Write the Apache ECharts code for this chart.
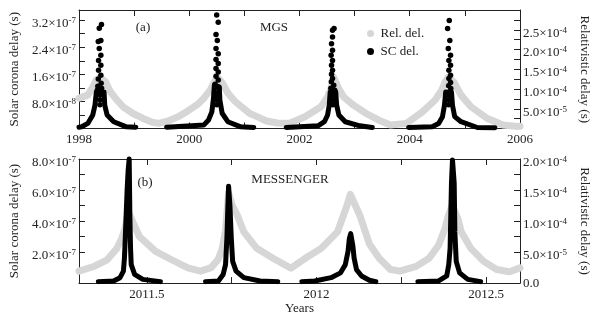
<!DOCTYPE html>
<html>
<head>
<meta charset="utf-8">
<script src="https://cdn.jsdelivr.net/npm/echarts@6/dist/echarts.min.js"></script>
<style>
  html, body { margin: 0; padding: 0; background: #fff; }
  #chart { width: 599px; height: 316px; }
</style>
</head>
<body>
<div id="chart"></div>
<script>
// ---- data: [year, seconds] ----

// (a) MGS, relativistic delay (right axis)
const relMGS = [
  [1998.00, 7.7e-5], [1998.16, 8.45e-5], [1998.25, 10.5e-5], [1998.31, 12.2e-5],
  [1998.38, 13.0e-5], [1998.485, 11.8e-5], [1998.57, 9.3e-5], [1998.69, 7.2e-5],
  [1998.80, 5.5e-5], [1998.98, 3.8e-5], [1999.155, 2.6e-5], [1999.33, 1.6e-5],
  [1999.45, 1.3e-5], [1999.62, 1.9e-5], [1999.80, 3.0e-5], [1999.97, 4.4e-5],
  [2000.15, 6.1e-5], [2000.26, 7.6e-5], [2000.38, 9.7e-5], [2000.44, 11.4e-5],
  [2000.51, 13.0e-5], [2000.60, 11.5e-5], [2000.70, 9.0e-5], [2000.82, 7.0e-5],
  [2000.94, 5.6e-5], [2001.10, 3.8e-5], [2001.23, 3.0e-5], [2001.40, 1.9e-5],
  [2001.60, 1.4e-5], [2001.81, 1.3e-5], [2002.10, 3.0e-5], [2002.39, 5.5e-5],
  [2002.51, 8.0e-5], [2002.57, 10.1e-5], [2002.62, 13.0e-5], [2002.71, 10.1e-5],
  [2002.80, 8.0e-5], [2002.98, 5.9e-5], [2003.21, 3.8e-5], [2003.44, 2.1e-5],
  [2003.65, 0.9e-5], [2003.94, 1.3e-5], [2004.23, 4.2e-5], [2004.46, 7.2e-5],
  [2004.58, 9.7e-5], [2004.64, 11.8e-5], [2004.70, 13.0e-5], [2004.80, 11.8e-5],
  [2004.93, 8.45e-5], [2005.11, 5.5e-5], [2005.40, 2.6e-5], [2005.69, 0.9e-5],
  [2005.95, 0.5e-5], [2006.00, 0.55e-5]
];

// (a) MGS, solar corona delay (left axis): dense band, null = no data
const scMGS = [
  [1998.00, 0.4e-8], [1998.05, 0.5e-8], [1998.16, 1.5e-8], [1998.25, 4.0e-8],
  [1998.29, 6.9e-8], [1998.315, 10.8e-8], [1998.455, 10.8e-8], [1998.467, 6.9e-8],
  [1998.51, 4.0e-8], [1998.63, 2.0e-8], [1998.86, 0.5e-8], [1999.03, 0.4e-8],
  null,
  [1999.59, 0.4e-8], [2000.263, 1.0e-8], [2000.35, 2.5e-8], [2000.41, 4.9e-8],
  [2000.44, 8.9e-8], [2000.456, 12.8e-8], [2000.544, 12.3e-8], [2000.556, 8.4e-8],
  [2000.597, 4.5e-8], [2000.70, 2.0e-8], [2000.935, 0.5e-8], [2001.17, 0.3e-8],
  null,
  [2001.76, 0.3e-8], [2002.336, 0.8e-8], [2002.452, 2.0e-8], [2002.51, 4.0e-8],
  [2002.54, 6.9e-8], [2002.557, 10.8e-8], [2002.657, 10.8e-8], [2002.674, 6.9e-8],
  [2002.714, 4.0e-8], [2002.83, 2.0e-8], [2003.094, 0.8e-8], [2003.32, 0.3e-8],
  null,
  [2003.98, 0.3e-8], [2004.407, 0.5e-8], [2004.524, 1.5e-8], [2004.594, 3.5e-8],
  [2004.63, 6.9e-8], [2004.652, 10.8e-8], [2004.757, 10.8e-8], [2004.775, 6.9e-8],
  [2004.815, 3.5e-8], [2004.93, 2.0e-8], [2005.225, 0.3e-8], [2005.545, 0.2e-8]
];

// (a) MGS, separate dots near the tops of the spikes
const scMGSPeaks = [
  [1998.408, 3.07e-7], [1998.368, 2.96e-7], [1998.397, 2.60e-7], [1998.350, 2.57e-7],
  [1998.368, 2.36e-7], [1998.397, 2.16e-7], [1998.355, 2.01e-7], [1998.397, 1.87e-7],
  [1998.355, 1.72e-7], [1998.397, 1.57e-7], [1998.350, 1.46e-7], [1998.402, 1.34e-7],
  [1998.342, 1.25e-7], [1998.411, 1.19e-7], [1998.333, 1.13e-7], [1998.420, 1.07e-7],
  [1998.380, 1.00e-7], [1998.385, 0.85e-7], [1998.380, 0.70e-7],
  [2000.498, 3.35e-7], [2000.526, 3.14e-7], [2000.486, 2.78e-7], [2000.509, 2.60e-7],
  [2000.486, 2.36e-7], [2000.526, 2.21e-7], [2000.486, 2.04e-7], [2000.526, 1.92e-7],
  [2000.486, 1.77e-7], [2000.526, 1.67e-7], [2000.486, 1.54e-7], [2000.526, 1.43e-7],
  [2000.468, 1.31e-7], [2000.538, 1.19e-7], [2000.460, 1.07e-7], [2000.500, 1.00e-7],
  [2000.500, 0.85e-7], [2000.500, 0.70e-7],
  [2002.627, 2.95e-7], [2002.599, 2.90e-7], [2002.599, 2.70e-7], [2002.581, 2.50e-7],
  [2002.599, 2.31e-7], [2002.574, 2.16e-7], [2002.599, 2.01e-7], [2002.581, 1.87e-7],
  [2002.599, 1.72e-7], [2002.581, 1.60e-7], [2002.599, 1.48e-7], [2002.578, 1.38e-7],
  [2002.621, 1.28e-7], [2002.569, 1.19e-7], [2002.639, 1.13e-7], [2002.605, 1.00e-7],
  [2002.605, 0.85e-7], [2002.605, 0.70e-7],
  [2004.717, 3.19e-7], [2004.687, 2.95e-7], [2004.727, 2.60e-7], [2004.699, 2.36e-7],
  [2004.740, 2.16e-7], [2004.710, 2.01e-7], [2004.740, 1.87e-7], [2004.710, 1.72e-7],
  [2004.740, 1.57e-7], [2004.710, 1.48e-7], [2004.740, 1.36e-7], [2004.705, 1.26e-7],
  [2004.745, 1.18e-7], [2004.705, 1.00e-7], [2004.705, 0.85e-7], [2004.705, 0.70e-7]
];

// (b) MESSENGER, relativistic delay (right axis)
const relMessenger = [
  [2011.300, 1.93e-5], [2011.346, 2.72e-5], [2011.383, 3.76e-5], [2011.412, 5.6e-5],
  [2011.426, 7.2e-5], [2011.436, 8.8e-5], [2011.445, 11.5e-5], [2011.459, 9.8e-5],
  [2011.478, 7.5e-5], [2011.526, 5.1e-5], [2011.573, 3.76e-5], [2011.621, 2.45e-5],
  [2011.658, 1.93e-5], [2011.690, 2.5e-5], [2011.710, 3.8e-5], [2011.722, 5.5e-5],
  [2011.732, 8.5e-5], [2011.741, 14.5e-5], [2011.752, 12.5e-5], [2011.767, 10.9e-5],
  [2011.786, 8.25e-5], [2011.824, 5.6e-5], [2011.872, 4.0e-5], [2011.925, 2.4e-5],
  [2011.967, 4.0e-5], [2012.014, 5.6e-5], [2012.062, 8.25e-5], [2012.090, 12.5e-5],
  [2012.100, 14.3e-5], [2012.128, 10.9e-5], [2012.156, 6.3e-5], [2012.185, 4.0e-5],
  [2012.218, 2.2e-5], [2012.246, 1.93e-5], [2012.294, 2.7e-5], [2012.332, 4.0e-5],
  [2012.360, 6.1e-5], [2012.379, 8.8e-5], [2012.389, 10.9e-5], [2012.400, 12.5e-5],
  [2012.417, 10.4e-5], [2012.427, 8.25e-5], [2012.455, 5.6e-5], [2012.493, 3.5e-5],
  [2012.531, 2.2e-5], [2012.569, 1.82e-5], [2012.600, 2.45e-5]
];

// (b) MESSENGER, solar corona delay (left axis)
const scMessenger = [
  [2011.357, 0.095e-7], [2011.402, 0.14e-7], [2011.421, 0.35e-7], [2011.431, 0.77e-7],
  [2011.434, 1.61e-7], [2011.436, 2.67e-7], [2011.439, 4.35e-7], [2011.442, 6.04e-7],
  [2011.445, 7.3e-7], [2011.448, 8.0e-7], [2011.450, 4.35e-7], [2011.452, 2.25e-7],
  [2011.454, 1.19e-7], [2011.464, 0.56e-7], [2011.488, 0.24e-7], [2011.540, 0.095e-7],
  null,
  [2011.673, 0.095e-7], [2011.711, 0.14e-7], [2011.725, 0.56e-7], [2011.732, 1.19e-7],
  [2011.736, 2.88e-7], [2011.739, 4.98e-7], [2011.741, 6.25e-7], [2011.745, 4.98e-7],
  [2011.749, 2.88e-7], [2011.753, 1.4e-7], [2011.763, 0.77e-7], [2011.786, 0.35e-7],
  [2011.834, 0.14e-7], [2011.886, 0.095e-7],
  null,
  [2011.957, 0.095e-7], [2011.995, 0.14e-7], [2012.043, 0.35e-7], [2012.071, 0.66e-7],
  [2012.085, 1.19e-7], [2012.093, 2.04e-7], [2012.097, 2.88e-7], [2012.101, 3.19e-7],
  [2012.107, 2.45e-7], [2012.111, 1.61e-7], [2012.118, 0.87e-7], [2012.133, 0.46e-7],
  [2012.156, 0.18e-7], [2012.175, 0.095e-7],
  null,
  [2012.299, 0.095e-7], [2012.360, 0.14e-7], [2012.384, 0.46e-7], [2012.390, 1.19e-7],
  [2012.394, 2.25e-7], [2012.396, 4.35e-7], [2012.398, 6.46e-7], [2012.401, 7.94e-7],
  [2012.406, 6.46e-7], [2012.408, 3.3e-7], [2012.412, 1.4e-7], [2012.422, 0.66e-7],
  [2012.446, 0.24e-7], [2012.484, 0.095e-7]
];

// ---- ticks and labels ----
const yearTicks = [1999, 2000, 2001, 2002, 2003, 2004, 2005];
const yearLabels = [1998, 2000, 2002, 2004, 2006];
const msgTicks = [2011.5, 2011.75, 2012, 2012.25, 2012.5];
const msgLabels = [2011.5, 2012, 2012.5];
const mgsLeftTicks = [4e-8, 8e-8, 1.2e-7, 1.6e-7, 2.0e-7, 2.4e-7, 2.8e-7, 3.2e-7];
const mgsLeftLabels = [8e-8, 1.6e-7, 2.4e-7, 3.2e-7];
const mgsRightTicks = [2.5e-5, 5e-5, 7.5e-5, 1e-4, 1.25e-4, 1.5e-4, 1.75e-4, 2e-4, 2.25e-4, 2.5e-4, 2.75e-4];
const mgsRightLabels = [5e-5, 1e-4, 1.5e-4, 2e-4, 2.5e-4];
const msgLeftTicks = [1e-7, 2e-7, 3e-7, 4e-7, 5e-7, 6e-7, 7e-7];
const msgLeftLabels = [2e-7, 4e-7, 6e-7, 8e-7];
const msgRightTicks = [2.5e-5, 5e-5, 7.5e-5, 1e-4, 1.25e-4, 1.5e-4, 1.75e-4];
const msgRightLabels = [0, 5e-5, 1e-4, 1.5e-4, 2e-4];

const FONT = 'Liberation Serif';
const INK = '#222';
const GRAY = '#d6d6d6';

// 3.2e-7 -> 3.2x10 with a raised exponent
function sci(v) {
  if (v === 0) return '{z|0.0}';
  const e = Math.floor(Math.log10(v) + 1e-9);
  const m = (v / Math.pow(10, e)).toFixed(1);
  return '{m|' + m + '×10}{s|' + e + '}';
}

const richSci = {
  m: { fontSize: 13, fontFamily: FONT, color: INK, lineHeight: 13, verticalAlign: 'bottom' },
  s: { fontSize: 9, fontFamily: FONT, color: INK, lineHeight: 14, verticalAlign: 'top', padding: [0, 0, 4, 0] },
  z: { fontSize: 13, fontFamily: FONT, color: INK, lineHeight: 13, padding: [0, 0, 6, 0] }
};

function xAxis(grid, min, max, ticks, labels, pos, extra) {
  return Object.assign({
    type: 'value', gridIndex: grid, min: min, max: max, position: pos,
    axisLine: { show: true, onZero: false, lineStyle: { color: INK, width: 1 } },
    axisTick: { show: true, inside: true, length: 6, customValues: ticks, lineStyle: { color: INK } },
    axisLabel: labels ? {
      show: true, customValues: labels, margin: 5, color: INK, fontSize: 13, fontFamily: FONT,
      formatter: v => String(v)
    } : { show: false },
    splitLine: { show: false }
  }, extra || {});
}

function yAxis(grid, min, max, ticks, labels, pos, name) {
  const left = pos === 'left';
  return {
    type: 'value', gridIndex: grid, min: min, max: max, position: pos,
    name: name, nameLocation: 'middle', nameRotate: left ? 90 : -90, nameGap: left ? 56 : 58,
    nameTextStyle: { color: INK, fontSize: 13, fontFamily: FONT },
    axisLine: { show: true, onZero: false, lineStyle: { color: INK, width: 1 } },
    axisTick: { show: true, inside: true, length: 6, customValues: ticks, lineStyle: { color: INK } },
    axisLabel: {
      show: true, customValues: labels, margin: 3, color: INK, fontSize: 13, fontFamily: FONT,
      padding: [6, 0, 0, 0], formatter: sci, rich: richSci
    },
    splitLine: { show: false }
  };
}

const chart = echarts.init(document.getElementById('chart'), null, { renderer: 'canvas' });

chart.setOption({
  backgroundColor: '#fff',
  animation: false,
  grid: [
    { left: 69, top: 10, width: 457, height: 118.5 },
    { left: 69, top: 159, width: 457, height: 126.5 }
  ],
  xAxis: [
    xAxis(0, 1998, 2006, yearTicks, yearLabels, 'bottom'),
    xAxis(0, 1998, 2006, yearTicks, null, 'top'),
    xAxis(1, 2011.3, 2012.6, msgTicks, msgLabels, 'bottom', {
      name: 'Years', nameLocation: 'middle', nameGap: 15,
      nameTextStyle: { color: INK, fontSize: 13, fontFamily: FONT }
    }),
    xAxis(1, 2011.3, 2012.6, msgTicks, null, 'top')
  ],
  yAxis: [
    yAxis(0, 0, 3.5e-7, mgsLeftTicks, mgsLeftLabels, 'left', 'Solar corona delay (s)'),
    yAxis(0, 0, 3e-4, mgsRightTicks, mgsRightLabels, 'right', 'Relativistic delay (s)'),
    yAxis(1, 0, 8e-7, msgLeftTicks, msgLeftLabels, 'left', 'Solar corona delay (s)'),
    yAxis(1, 0, 2e-4, msgRightTicks, msgRightLabels, 'right', 'Relativistic delay (s)')
  ],
  legend: {
    orient: 'vertical', left: 362, top: 22, itemWidth: 10, itemHeight: 7, itemGap: 5,
    textStyle: { color: INK, fontSize: 13, fontFamily: FONT },
    data: [
      { name: 'Rel. del.', icon: 'circle' },
      { name: 'SC del.', icon: 'circle' }
    ]
  },
  graphic: [
    { type: 'text', x: 143, y: 28, style: { text: '(a)', fill: INK, font: '13px "Liberation Serif"', align: 'center', verticalAlign: 'middle' } },
    { type: 'text', x: 274, y: 28, style: { text: 'MGS', fill: INK, font: '13px "Liberation Serif"', align: 'center', verticalAlign: 'middle' } },
    { type: 'text', x: 145, y: 183, style: { text: '(b)', fill: INK, font: '13px "Liberation Serif"', align: 'center', verticalAlign: 'middle' } },
    { type: 'text', x: 290, y: 180, style: { text: 'MESSENGER', fill: INK, font: '13px "Liberation Serif"', align: 'center', verticalAlign: 'middle' } }
  ],
  series: [
    {
      name: 'Rel. del.', type: 'line', xAxisIndex: 0, yAxisIndex: 1, data: relMGS,
      symbol: 'none', z: 1,
      lineStyle: { color: GRAY, width: 7, cap: 'round', join: 'round' }, itemStyle: { color: GRAY }
    },
    {
      name: 'SC del.', type: 'line', xAxisIndex: 0, yAxisIndex: 0, data: scMGS,
      symbol: 'none', connectNulls: false, clip: false, z: 2,
      lineStyle: { color: '#000', width: 5, cap: 'round', join: 'round' }, itemStyle: { color: '#000' }
    },
    {
      name: 'SC del.', type: 'scatter', xAxisIndex: 0, yAxisIndex: 0, data: scMGSPeaks,
      symbolSize: 5.5, z: 3, itemStyle: { color: '#000', opacity: 1 }
    },
    {
      name: 'Rel. del.', type: 'line', xAxisIndex: 2, yAxisIndex: 3, data: relMessenger,
      symbol: 'none', z: 1,
      lineStyle: { color: GRAY, width: 7, cap: 'round', join: 'round' }, itemStyle: { color: GRAY }
    },
    {
      name: 'SC del.', type: 'line', xAxisIndex: 2, yAxisIndex: 2, data: scMessenger,
      symbol: 'none', connectNulls: false, clip: false, z: 2,
      lineStyle: { color: '#000', width: 5, cap: 'round', join: 'round' }, itemStyle: { color: '#000' }
    }
  ]
});
</script>
</body>
</html>
